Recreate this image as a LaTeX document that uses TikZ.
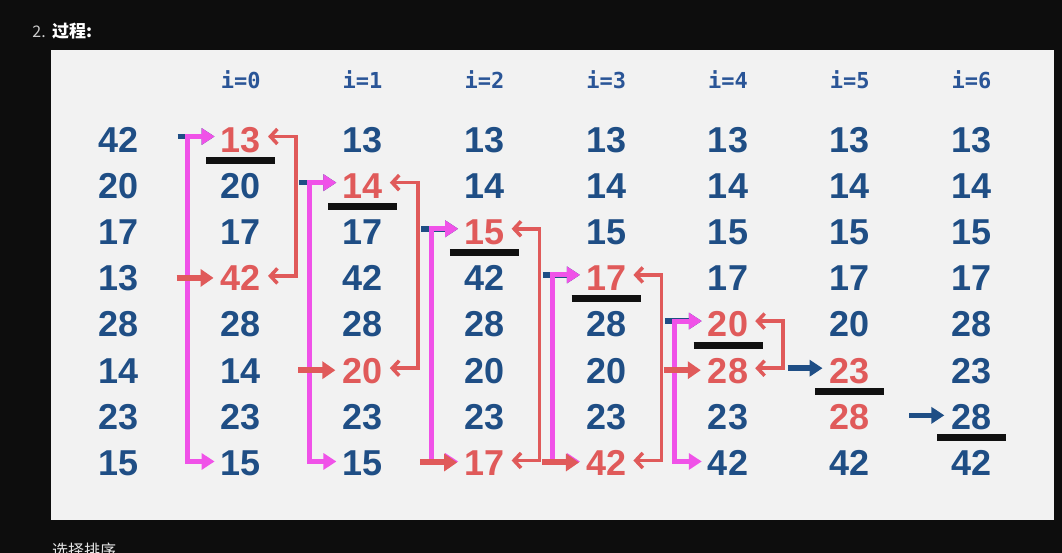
\documentclass[tikz,border=0pt]{standalone}
\usepackage{fontspec}
\setmainfont{Liberation Sans}
\newfontfamily\numfont{Liberation Sans}
\newfontfamily\monofont{DejaVu Sans Mono}
\newfontfamily\cjkfont{Noto Sans CJK SC}
\usetikzlibrary{arrows.meta,calc}
\definecolor{bgdark}{HTML}{0D0D0D}
\definecolor{panel}{HTML}{F2F2F2}
\definecolor{numblue}{HTML}{1F4E85}
\definecolor{hdrblue}{HTML}{2A5597}
\definecolor{numred}{HTML}{E05A5A}
\definecolor{pinkline}{HTML}{F052E8}
\definecolor{barblack}{HTML}{111111}
\tikzset{
  numst/.style={font=\numfont\bfseries\fontsize{36}{36}\selectfont, inner sep=0pt, text height=25.8pt, text depth=0pt, anchor=center},
  hdrst/.style={font=\monofont\bfseries\fontsize{22}{22}\selectfont, text=hdrblue, inner sep=0pt, anchor=base},
  bluearr/.style={draw=numblue, line width=5.5pt, -{Triangle[length=13pt,width=16pt]}},
  pinkarr/.style={draw=pinkline, line width=5pt, line join=miter, {Triangle[length=13pt,width=16pt]}-{Triangle[length=13pt,width=16pt]}},
  redarr/.style={draw=numred, line width=6pt, -{Triangle[length=13pt,width=17pt]}},
  redbr/.style={draw=numred, line width=3.5pt, line join=miter, {Straight Barb[length=7pt,width=15pt]}-{Straight Barb[length=7pt,width=15pt]}},
  barst/.style={draw=barblack, line width=7pt},
}
\newcommand\nm[4]{\node[numst,text=#4] (n#1-#2) at ({119+121.8*#1},{139.5+46.14*#2}) {#3};}
\begin{document}
\begin{tikzpicture}[x=1pt,y=-1pt]
\useasboundingbox (0,0) rectangle (1062,553);
\fill[bgdark] (0,0) rectangle (1062,553);
\fill[panel] (51,50) rectangle (1054,520);
% page texts
\node[font=\cjkfont\fontsize{16}{16}\selectfont, text=white!80!black, anchor=base east, inner sep=0pt] (lbl) at (46,38) {2.};
\node[font=\cjkfont\bfseries\fontsize{17}{17}\selectfont, text=white, anchor=base west, inner sep=0pt] (ttl) at (52,38) {过程:};
\node[font=\cjkfont\fontsize{16}{16}\selectfont, text=white!90!black, anchor=base west, inner sep=0pt] (foot) at (52,556) {选择排序};
% headers
\foreach \k in {0,...,6} {
  \node[hdrst] (h\k) at ({119+121.8*(\k+1)},89) {i=\k};
}
% column 0
\nm{0}{0}{42}{numblue}\nm{0}{1}{20}{numblue}\nm{0}{2}{17}{numblue}\nm{0}{3}{13}{numblue}
\nm{0}{4}{28}{numblue}\nm{0}{5}{14}{numblue}\nm{0}{6}{23}{numblue}\nm{0}{7}{15}{numblue}
% i=0
\nm{1}{0}{13}{numred}\nm{1}{1}{20}{numblue}\nm{1}{2}{17}{numblue}\nm{1}{3}{42}{numred}
\nm{1}{4}{28}{numblue}\nm{1}{5}{14}{numblue}\nm{1}{6}{23}{numblue}\nm{1}{7}{15}{numblue}
% i=1
\nm{2}{0}{13}{numblue}\nm{2}{1}{14}{numred}\nm{2}{2}{17}{numblue}\nm{2}{3}{42}{numblue}
\nm{2}{4}{28}{numblue}\nm{2}{5}{20}{numred}\nm{2}{6}{23}{numblue}\nm{2}{7}{15}{numblue}
% i=2
\nm{3}{0}{13}{numblue}\nm{3}{1}{14}{numblue}\nm{3}{2}{15}{numred}\nm{3}{3}{42}{numblue}
\nm{3}{4}{28}{numblue}\nm{3}{5}{20}{numblue}\nm{3}{6}{23}{numblue}\nm{3}{7}{17}{numred}
% i=3
\nm{4}{0}{13}{numblue}\nm{4}{1}{14}{numblue}\nm{4}{2}{15}{numblue}\nm{4}{3}{17}{numred}
\nm{4}{4}{28}{numblue}\nm{4}{5}{20}{numblue}\nm{4}{6}{23}{numblue}\nm{4}{7}{42}{numred}
% i=4
\nm{5}{0}{13}{numblue}\nm{5}{1}{14}{numblue}\nm{5}{2}{15}{numblue}\nm{5}{3}{17}{numblue}
\nm{5}{4}{20}{numred}\nm{5}{5}{28}{numred}\nm{5}{6}{23}{numblue}\nm{5}{7}{42}{numblue}
% i=5
\nm{6}{0}{13}{numblue}\nm{6}{1}{14}{numblue}\nm{6}{2}{15}{numblue}\nm{6}{3}{17}{numblue}
\nm{6}{4}{20}{numblue}\nm{6}{5}{23}{numred}\nm{6}{6}{28}{numred}\nm{6}{7}{42}{numblue}
% i=6
\nm{7}{0}{13}{numblue}\nm{7}{1}{14}{numblue}\nm{7}{2}{15}{numblue}\nm{7}{3}{17}{numblue}
\nm{7}{4}{28}{numblue}\nm{7}{5}{23}{numblue}\nm{7}{6}{28}{numblue}\nm{7}{7}{42}{numblue}
% bars
\foreach \c/\r in {1/0,2/1,3/2,4/3,5/4,6/5,7/6} {
  \draw[barst] ($(n\c-\r.center)+(-34.5,21)$) -- ($(n\c-\r.center)+(34.5,21)$);
}
% selection passes
\foreach \c/\t/\s in {1/0/3,2/1/5,3/2/7,4/3/7,5/4/5} {
  \draw[bluearr] ($(n\c-\t.west)+(-43,-3)$) -- ($(n\c-\t.west)+(-6,-3)$);
  \draw[pinkarr] ($(n\c-\t.west)+(-6,-3)$) -- ($(n\c-\t.west)+(-33,-3)$) -- ($(n\c-7.west)+(-33,-1)$) -- ($(n\c-7.west)+(-6,-1)$);
  \draw[redarr] ($(n\c-\s.west)+(-44,0)$) -- ($(n\c-\s.west)+(-7,0)$);
  \draw[redbr] ($(n\c-\t.east)+(7,-3)$) -- ($(n\c-\t.east)+(35,-3)$) -- ($(n\c-\s.east)+(35,-2)$) -- ($(n\c-\s.east)+(7,-2)$);
}
% last passes
\draw[bluearr] ($(n6-5.west)+(-42,-2)$) -- ($(n6-5.west)+(-7,-2)$);
\draw[bluearr] ($(n7-6.west)+(-42,-1)$) -- ($(n7-6.west)+(-7,-1)$);
\end{tikzpicture}
\end{document}
